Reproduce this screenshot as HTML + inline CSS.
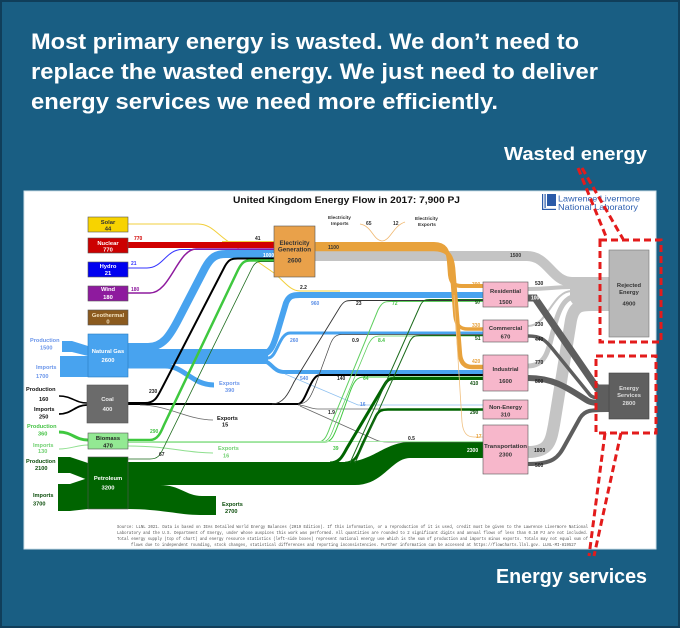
<!DOCTYPE html>
<html><head><meta charset="utf-8">
<style>
html,body{margin:0;padding:0;background:#195e83;}
svg{display:block}
text{font-family:"Liberation Sans",Arial,sans-serif;}
.m{font-family:"Liberation Mono","DejaVu Sans Mono",monospace;}
</style></head><body>
<svg width="680" height="628" viewBox="0 0 680 628" xmlns="http://www.w3.org/2000/svg">
<rect x="0" y="0" width="680" height="628" fill="#195e83"/>
<rect x="1" y="1" width="678" height="626" fill="none" stroke="#103e5a" stroke-width="2"/>

<g fill="#fff" font-weight="bold">
<text x="31" y="49" font-size="22" textLength="548" lengthAdjust="spacingAndGlyphs">Most primary energy is wasted. We don’t need to</text>
<text x="31" y="79" font-size="22" textLength="567" lengthAdjust="spacingAndGlyphs">replace the wasted energy. We just need to deliver</text>
<text x="31" y="109" font-size="22" textLength="467" lengthAdjust="spacingAndGlyphs">energy services we need more efficiently.</text>
<text x="504" y="160" font-size="18" textLength="143" lengthAdjust="spacingAndGlyphs">Wasted energy</text>
<text x="496" y="583" font-size="20" textLength="151" lengthAdjust="spacingAndGlyphs">Energy services</text>
</g>

<!-- panel -->
<rect x="24" y="191" width="632" height="358" fill="#fff" stroke="#cfe0ea"/>

<text x="233" y="203" font-size="9.5" font-weight="bold" fill="#111" textLength="227" lengthAdjust="spacingAndGlyphs">United Kingdom Energy Flow in 2017: 7,900 PJ</text>

<!-- LLNL logo -->
<g>
<rect x="547" y="194" width="9" height="12" fill="#2a5aa8"/>
<rect x="542" y="194" width="1.2" height="16" fill="#2a5aa8"/>
<rect x="544.5" y="194" width="1.2" height="14" fill="#2a5aa8"/>
<rect x="542" y="208.8" width="14" height="1.2" fill="#2a5aa8"/>
<text x="558" y="201.5" font-size="8.3" fill="#2d5fb0" textLength="82" lengthAdjust="spacingAndGlyphs">Lawrence Livermore</text>
<text x="558" y="210" font-size="8.3" fill="#2d5fb0" textLength="80" lengthAdjust="spacingAndGlyphs">National Laboratory</text>
</g>

<!-- light gray rejected flows -->
<g fill="none" stroke="#c4c4c4">
<path d="M315,256 H527 C548,256 552,282 572,282 H609" stroke-width="10"/>
<path d="M528,289 C550,289 552,287 572,287 H609" stroke-width="4"/>
<path d="M528,326 C548,326 552,291 572,291 H609" stroke-width="2"/>
<path d="M528,366 C548,366 549,345 554,328 C559,308 565,296 578,296 H609" stroke-width="5"/>
<path d="M528,452 C550,452 551,440 554,425 L571,320 C574,306 580,305 592,305 H609" stroke-width="12"/>
</g>
<polygon fill="#c4c4c4" points="570,277 609,277 609,311 578,311 570,300"/>
<!-- dark gray energy service flows -->
<g fill="none" stroke="#5e5e5e">
<path d="M528,298 H535 L597,388 H609" stroke-width="7"/>
<path d="M528,336 C541,336 545,340 551,347 L590,395 C593,398 596,398 609,398" stroke-width="3.5"/>
<path d="M528,378 C556,378 570,390 588,401 C592,403 596,403 609,403" stroke-width="6"/>
<path d="M528,464 C553,464 558,458 565,445 L580,418 C585,410 590,410 609,410" stroke-width="4"/>
</g>
<rect x="596" y="385" width="13" height="27" fill="#5e5e5e"/>

<!-- gas inflows -->
<polygon fill="#48a3ef" points="62,341 72,341 88,346 88,356 72,352 62,352"/>
<polygon fill="#48a3ef" points="60,356 70,356 88,356 88,377 70,377 60,377"/>

<!-- petroleum shapes -->
<polygon fill="#006400" points="58,457 70,457 88,463 88,480 70,473 58,473"/>
<polygon fill="#006400" points="58,484 70,484 88,478 88,509 70,511 58,511"/>
<path fill="#006400" d="M128,485 H160 C180,485 186,496 202,496 H216 V515 H200 C180,515 160,509 128,509 Z"/>
<path fill="#006400" d="M128,462 H345 C372,462 385,442 410,442 H483 V458 H410 C392,458 383,485 355,485 H128 Z"/>

<!-- solar -->
<g fill="none" stroke="#f2cf3c" stroke-width="1">
<path d="M128,224 H198 C212,224 218,236 232,244 L274,273 C284,281 290,291 300,291 H340"/>
<path d="M222,241.5 H274"/>
</g>
<!-- nuclear, hydro, wind -->
<path d="M128,245 H274" stroke="#d10000" stroke-width="6" fill="none"/>
<path d="M128,268 H147 C163,268 166,249.5 182,249.5 H274" stroke="#3333ff" stroke-width="1" fill="none"/>
<path d="M128,293 H150 C170,293 178,249 196,249 H274" stroke="#8e1a9e" stroke-width="1.5" fill="none"/>

<!-- gas flows -->
<g stroke="#48a3ef" fill="none">
<path d="M128,347 H148 C163,347 170,335 177,322 L205,268 C211,257 216,254 226,254 H274" stroke-width="8"/>
<path d="M128,366 H165 C184,366 192,385 214,385" stroke-width="5"/>
<path d="M245,354 H262 C272,354 275,340 278,330 L286,303 C289,296 292,295 300,295 H483" stroke-width="6"/>
<path d="M245,358 H268 C277,358 279,333 290,333 H483" stroke-width="3"/>
<path d="M245,361 H262 C272,361 272,372 285,372 H483" stroke-width="4"/>
</g>
<rect x="128" y="349" width="140" height="15" fill="#48a3ef"/>
<path d="M285,374 L358,405 H483" stroke="#8ec0f0" stroke-width="0.8" fill="none"/>

<!-- coal -->
<g fill="none" stroke="#000">
<path d="M59,396 C72,396 75,403 87,403" stroke-width="1.5"/>
<path d="M59,414 C72,414 75,405 87,405" stroke-width="1.8"/>
<path d="M128,404 H298 C306,404 310,375 320,375 H483" stroke-width="2"/>
<path d="M128,403 H145 C156,403 158,395 162,388 L225,266 C229,259 232,258.5 238,258.5 H274" stroke-width="2"/>
<path d="M272,404 C284,404 289,392 294,382 L340,307 C344,301 346,300.5 352,300.5 H483" stroke-width="0.9" stroke="#333"/>
<path d="M298,404 C308,404 311,396 315,386 L330,345 C333,337 336,334.5 342,334.5 H483" stroke-width="0.7" stroke="#444"/>
<path d="M298,405 C306,405 310,409 318,409 H483" stroke-width="0.8" stroke="#666"/>
<path d="M300,406 L376,440 C379,441.5 382,442 388,442 H483" stroke-width="0.8" stroke="#666"/>
<path d="M140,405 C168,405 188,420 213,420" stroke-width="0.8" stroke="#666"/>
</g>

<!-- biomass -->
<g fill="none">
<path d="M59,432 C72,432 75,440 88,440" stroke="#3fc83f" stroke-width="3"/>
<path d="M59,449 C72,449 76,445 88,445" stroke="#8fdf8f" stroke-width="1"/>
<path d="M128,440 H150 C158,440 161,432 164,425 L238,270 C242,262 245,260.5 250,260.5 H274" stroke="#3fc83f" stroke-width="2.5"/>
<path d="M128,442 H318 C326,442 328,432 332,422 L378,310 C382,302 385,301.5 390,301.5 H483" stroke="#5fcf5f" stroke-width="1"/>
<path d="M128,442 H322 C330,442 332,432 336,422 L368,345 C372,337 375,336 380,336 H483" stroke="#5fcf5f" stroke-width="0.8"/>
<path d="M128,442 H325 C333,442 335,432 340,420 L350,392 C354,381 357,377 364,377 H483" stroke="#3fc83f" stroke-width="1"/>
<path d="M128,441.5 H483" stroke="#a8e8a8" stroke-width="1"/>
<path d="M128,446 C170,446 185,453 213,453" stroke="#8fdf8f" stroke-width="1"/>
</g>

<!-- petroleum lines -->
<g fill="none">
<path d="M330,463 C340,463 343,455 347,448 L385,384 C388,379 390,378.5 396,378.5 H483" stroke="#006400" stroke-width="3"/>
<path d="M345,463 C355,463 358,455 362,445 L375,418 C378,411 381,409.5 388,409.5 H483" stroke="#006400" stroke-width="2.5"/>
<path d="M350,463 L420,306 C423,300 425,299.5 430,299.5 H483" stroke="#1a6a1a" stroke-width="1"/>
<path d="M355,463 L410,341 C413,336 415,335.5 420,335.5 H483" stroke="#1a6a1a" stroke-width="1"/>
<path d="M128,459 H150 C158,459 160,455 163,449 L252,268 C255,262 258,261.5 262,261.5 H274" stroke="#1a6a1a" stroke-width="0.8"/>
</g>

<!-- electricity -->
<g stroke="#e8a23c" fill="none">
<path d="M315,244 H434 C445,244 448,250 449,262 L450,275 C451,283 454,286 462,286 H483" stroke-width="4"/>
<path d="M315,247 H434 C447,247 450,255 451,265 L455,316 C456,325 460,329 468,329 H483" stroke-width="3.5"/>
<path d="M315,249 H434 C449,249 452,258 453,268 L460,355 C461,363 465,367 472,367 H483" stroke-width="4.5"/>
</g>
<path d="M454,295 L462,422 C463,433 467,437 474,437 H483" stroke="#f0c080" stroke-width="0.8" fill="none"/>
<path d="M360,224 C372,226 373,240 382,241 C391,240 393,226 405,222" stroke="#f0b870" stroke-width="0.8" fill="none"/>

<!-- source boxes -->
<g stroke="#555" stroke-width="0.6">
<rect x="88" y="217" width="40" height="15" fill="#f7d300"/>
<rect x="88" y="238" width="40" height="15" fill="#cc0000"/>
<rect x="88" y="262" width="40" height="15" fill="#0000f0"/>
<rect x="88" y="286" width="40" height="15" fill="#8e1a9e"/>
<rect x="88" y="310" width="40" height="15" fill="#8b5a1e"/>
<rect x="88" y="334" width="40" height="43" fill="#48a3ef" stroke="#2a7cc0"/>
<rect x="87" y="385" width="41" height="38" fill="#6b6b6b"/>
<rect x="88" y="433" width="40" height="16" fill="#93e993"/>
<rect x="88" y="457" width="40" height="52" fill="#006400"/>
<rect x="274" y="226" width="41" height="51" fill="#e9a14a"/>
<rect x="483" y="282" width="45" height="25" fill="#f7b7cb"/>
<rect x="483" y="320" width="45" height="22" fill="#f7b7cb"/>
<rect x="483" y="355" width="45" height="36" fill="#f7b7cb"/>
<rect x="483" y="400" width="45" height="19" fill="#f7b7cb"/>
<rect x="483" y="425" width="45" height="49" fill="#f7b7cb"/>
<rect x="609" y="250" width="40" height="87" fill="#b8b8b8" stroke="#777"/>
<rect x="609" y="373" width="40" height="46" fill="#5f5f5f" stroke="#444"/>
</g>

<!-- box labels -->
<g font-size="5.8" font-weight="bold" text-anchor="middle">
<text x="108" y="224" fill="#333">Solar</text><text x="108" y="230.5" fill="#333">44</text>
<text x="108" y="245" fill="#fff">Nuclear</text><text x="108" y="251.5" fill="#fff">770</text>
<text x="108" y="268" fill="#fff">Hydro</text><text x="108" y="275" fill="#fff">21</text>
<text x="108" y="291" fill="#fff">Wind</text><text x="108" y="299" fill="#fff">180</text>
<text x="108" y="317" fill="#f3e2c0">Geothermal</text><text x="108" y="323.5" fill="#f3e2c0">0</text>
<text x="108" y="353" fill="#fff">Natural Gas</text><text x="108" y="362" fill="#fff">2600</text>
<text x="107.5" y="401" fill="#eee">Coal</text><text x="107.5" y="411" fill="#eee">400</text>
<text x="108" y="440" fill="#222">Biomass</text><text x="108" y="447.5" fill="#222">470</text>
<text x="108" y="480" fill="#fff">Petroleum</text><text x="108" y="489.5" fill="#fff">3200</text>
<text x="294.5" y="245" fill="#333" font-size="6.3">Electricity</text>
<text x="294.5" y="251.5" fill="#333" font-size="6.3">Generation</text>
<text x="294.5" y="262.5" fill="#333" font-size="6.3">2600</text>
<text x="505.5" y="293" fill="#333">Residential</text><text x="505.5" y="304" fill="#333">1500</text>
<text x="505.5" y="330" fill="#333">Commercial</text><text x="505.5" y="338.5" fill="#333">670</text>
<text x="505.5" y="371" fill="#333">Industrial</text><text x="505.5" y="383" fill="#333">1600</text>
<text x="505.5" y="409" fill="#333">Non-Energy</text><text x="505.5" y="416.5" fill="#333">310</text>
<text x="505.5" y="448" fill="#333" textLength="43" lengthAdjust="spacingAndGlyphs">Transportation</text><text x="505.5" y="456.5" fill="#333">2300</text>
<text x="629" y="287" fill="#333">Rejected</text><text x="629" y="294" fill="#333">Energy</text><text x="629" y="305.5" fill="#333">4900</text>
<text x="629" y="390" fill="#ddd">Energy</text><text x="629" y="397" fill="#ddd">Services</text><text x="629" y="405" fill="#ddd">2800</text>
</g>

<!-- side labels -->
<g font-size="5.6" font-weight="bold">
<text x="30" y="342" fill="#6a95ea">Production</text><text x="40" y="349.5" fill="#6a95ea">1500</text>
<text x="36" y="369" fill="#6a95ea">Imports</text><text x="36" y="378" fill="#6a95ea">1700</text>
<text x="26" y="391" fill="#111">Production</text><text x="39" y="401" fill="#111">160</text>
<text x="34" y="411" fill="#111">Imports</text><text x="39" y="418.5" fill="#111">250</text>
<text x="27" y="428" fill="#44c244">Production</text><text x="38" y="435.5" fill="#44c244">360</text>
<text x="33" y="447" fill="#70d070">Imports</text><text x="38" y="453" fill="#70d070">130</text>
<text x="26" y="463" fill="#0b4d0b">Production</text><text x="35" y="470" fill="#0b4d0b">2100</text>
<text x="33" y="497" fill="#0b4d0b">Imports</text><text x="33" y="505.5" fill="#0b4d0b">3700</text>
<text x="219" y="385" fill="#6a95ea">Exports</text><text x="225" y="392" fill="#6a95ea">390</text>
<text x="217" y="420" fill="#111">Exports</text><text x="222" y="426.5" fill="#111">15</text>
<text x="218" y="450" fill="#70d070">Exports</text><text x="223" y="457.5" fill="#70d070">16</text>
<text x="222" y="506" fill="#0b4d0b">Exports</text><text x="225" y="513" fill="#0b4d0b">2700</text>
</g>

<!-- small flow labels -->
<g font-size="5" font-weight="bold">
<text x="134" y="240" fill="#d10000">770</text>
<text x="131" y="265" fill="#3333ff">21</text>
<text x="131" y="291" fill="#8e1a9e">180</text>
<text x="255" y="240" fill="#222">41</text>
<text x="263" y="257" fill="#fff">1000</text>
<text x="328" y="249" fill="#333">1100</text>
<text x="300" y="289" fill="#222">2.2</text>
<text x="311" y="305" fill="#5a8ee6">960</text>
<text x="290" y="342" fill="#5a8ee6">260</text>
<text x="300" y="380" fill="#5a8ee6">540</text>
<text x="360" y="406" fill="#5a8ee6">16</text>
<text x="356" y="305" fill="#222">23</text>
<text x="352" y="342" fill="#222">0.9</text>
<text x="337" y="380" fill="#222">140</text>
<text x="328" y="414" fill="#222">1.9</text>
<text x="408" y="440" fill="#222">0.5</text>
<text x="392" y="305" fill="#44c244">72</text>
<text x="378" y="342" fill="#44c244">8.4</text>
<text x="363" y="380" fill="#44c244">64</text>
<text x="333" y="450" fill="#44c244">39</text>
<text x="159" y="456" fill="#222">67</text>
<text x="149" y="393" fill="#222">230</text>
<text x="150" y="433" fill="#44c244">290</text>
<text x="472" y="286" fill="#e8a23c">390</text>
<text x="475" y="304" fill="#0b4d0b">97</text>
<text x="472" y="327" fill="#e8a23c">330</text>
<text x="475" y="340" fill="#0b4d0b">51</text>
<text x="472" y="363" fill="#e8a23c">420</text>
<text x="470" y="385" fill="#0b4d0b">410</text>
<text x="470" y="414" fill="#0b4d0b">290</text>
<text x="476" y="438" fill="#e8a23c">17</text>
<text x="467" y="452" fill="#fff">2300</text>
<text x="535" y="285" fill="#222">530</text>
<text x="531" y="299.5" fill="#fff">1000</text>
<text x="535" y="326" fill="#222">230</text>
<text x="535" y="341" fill="#222">440</text>
<text x="535" y="364" fill="#222">770</text>
<text x="535" y="383" fill="#222">800</text>
<text x="534" y="452" fill="#222">1800</text>
<text x="535" y="467" fill="#222">500</text>
<text x="510" y="257" fill="#333">1500</text>
<text x="328" y="219" fill="#333" font-size="4.8">Electricity</text>
<text x="331" y="225" fill="#333" font-size="4.8">Imports</text>
<text x="366" y="225" fill="#333">65</text>
<text x="393" y="225" fill="#333">12</text>
<text x="415" y="220" fill="#333" font-size="4.8">Electricity</text>
<text x="418" y="226" fill="#333" font-size="4.8">Exports</text>
</g>

<!-- footer -->
<g class="m" font-size="4.2" fill="#555">
<text class="m" x="117" y="528" textLength="471" lengthAdjust="spacingAndGlyphs">Source: LLNL 2021.  Data is based on IEAs Detailed World Energy Balances (2019 Edition).  If this information, or a reproduction of it is used, credit must be given to the Lawrence Livermore National</text>
<text class="m" x="117" y="534" textLength="471" lengthAdjust="spacingAndGlyphs">Laboratory and the U.S. Department of Energy, under whose auspices this work was performed.  All quantities are rounded to 2 significant digits and annual flows of less than 0.10 PJ are not included.</text>
<text class="m" x="117" y="540" textLength="471" lengthAdjust="spacingAndGlyphs">Total energy supply (top of chart) and energy resource statistics (left-side boxes) represent national energy use which is the sum of production and imports minus exports.  Totals may not equal sum of</text>
<text class="m" x="131" y="546" textLength="445" lengthAdjust="spacingAndGlyphs">flows due to independent rounding, stock changes, statistical differences and reporting inconsistencies.  Further information can be accessed at https://flowcharts.llnl.gov.  LLNL-MI-819527</text>
</g>

<!-- red dashed annotations -->
<g fill="none" stroke="#e31b1b" stroke-width="3" stroke-dasharray="7 4">
<rect x="600" y="240" width="61" height="102"/>
<rect x="596" y="356" width="60" height="77"/>
<path d="M578,168 L607,239"/>
<path d="M582,168 L623,239"/>
<path d="M605,433 L589,556"/>
<path d="M621,433 L594,556"/>
</g>
</svg>
</body></html>
